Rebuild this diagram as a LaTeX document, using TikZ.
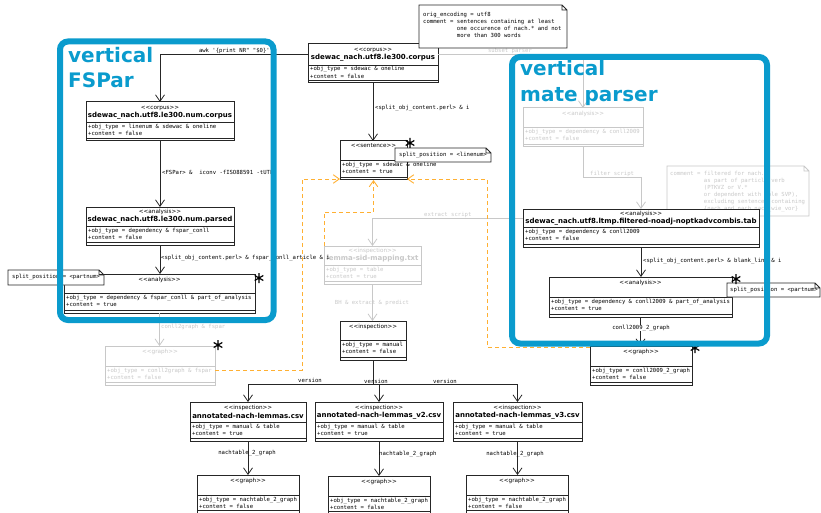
\documentclass[tikz,border=0pt]{standalone}
\usetikzlibrary{arrows.meta,calc}
% raw XeTeX fonts: no TeX ligature mapping, so << >> ' " stay as typed
\font\fmono="DejaVu Sans Mono" at 5.6pt
\font\fster="DejaVu Sans" at 5.7pt
\font\ftitle="DejaVu Sans/B" at 7pt
\font\fbig="DejaVu Sans/B" at 20pt
\definecolor{frameblue}{RGB}{10,155,205}
\definecolor{dashorange}{RGB}{255,176,50}
\definecolor{faintgray}{RGB}{200,200,200}
\tikzset{
  ink/.style={draw=black!85},
  faint/.style={draw=faintgray},
  inktext/.style={text=black},
  fainttext/.style={text=faintgray},
  umlframe/.style={draw,fill=white,line width=1pt,inner sep=0pt,outer sep=0pt},
  umlrule/.style={line width=0.7pt},
  stereo/.style={font=\fster,inner sep=0pt},
  ttl/.style={font=\ftitle,inner sep=0pt},
  attr/.style={font=\fmono,inner sep=0pt,anchor=west},
  lbl/.style={font=\fmono,inner sep=0pt},
  conn/.style={draw=black!85,line width=0.8pt,-{Straight Barb[length=6.5pt,width=9pt]}},
  flow/.style={draw=dashorange,line width=0.9pt,dash pattern=on 4pt off 3pt,-{Straight Barb[length=6pt,width=8.5pt]}},
  notebox/.style={draw,fill=white,line width=0.8pt},
  notetext/.style={font={\fmono\baselineskip=7pt},inner sep=0pt,align=left,anchor=north west},
  area/.style={draw=frameblue,line width=6pt,rounded corners=8pt},
  areatitle/.style={font=\fbig,text=frameblue,inner sep=0pt,anchor=base west},
  asterisk/.pic={\draw[line width=1.2pt,black] (0,-5)--(0,5) (-4.3,-2.5)--(4.3,2.5) (-4.3,2.5)--(4.3,-2.5);}
}
% class box: name, x1, y1, x2, y2, separator y, line style
\newcommand\umlbox[7]{%
  \node[umlframe,#7,minimum width={(#4)-(#2)},minimum height={(#5)-(#3)},anchor=north west] (#1) at (#2,#3) {};
  \draw[umlrule,#7] (#2,#6) -- (#4,#6) (#2,#5-3) -- (#4,#5-3);
}
% class text: box, text style, stereotype y, stereotype, title y, title, attribute y, attr 1, attr 2
\newcommand\umltext[9]{%
  \node[stereo,#2] (#1-st) at (#1.north |- 0,#3) {#4};
  \if\relax\detokenize{#6}\relax\else
    \node[ttl,#2] (#1-ti) at (#1.north |- 0,#5) {#6};
  \fi
  \node[attr,#2] (#1-a1) at ($(#1.west |- 0,#7)+(2,0)$) {#8};
  \node[attr,#2] (#1-a2) at ($(#1.west |- 0,#7+6.5)+(2,0)$) {#9};
}
% note with folded corner: name, x1, y1, x2, y2, line style
\newcommand\notebox[6]{%
  \draw[notebox,#6] (#2,#3) -- (#4-5,#3) -- (#4,#3+5) -- (#4,#5) -- (#2,#5) -- cycle
     (#4-5,#3) -- (#4-5,#3+5) -- (#4,#3+5);
  \coordinate (#1) at (#2,#3);
}
\begin{document}
\begin{tikzpicture}[x=1pt,y=-1pt]
\useasboundingbox (0,0) rectangle (821,513);
\clip (0,0) rectangle (821,513);

% ---------- faded (unused) branch ----------
\notebox{mnote}{667}{166}{809}{216}{faint}
\node[notetext,fainttext] (mnote-tx) at (670,171.2)
  {comment = filtered for nach.\\
   \phantom{comment = }as part of particle verb\\
   \phantom{comment = }(PTKVZ or V.*\\
   \phantom{comment = }or dependent with role SVP),\\
   \phantom{comment = }excluding sentences containing\\
   \phantom{comment = }\{nach\_and\_nach,nach\_wie\_vor\}};

\umlbox{anaM0}{523}{108}{643}{147}{127}{faint}
\umltext{anaM0}{fainttext}{114}{<<analysis>>}{}{}{132}{+obj\_type = dependency \& conll2009}{+content = false}
\umlbox{lemma}{324}{246}{421}{284}{265}{faint}
\umltext{lemma}{fainttext}{251}{<<inspection>>}{259}{lemma-sid-mapping.txt}{270}{+obj\_type = table}{+content = true}
\umlbox{graphF}{105}{346}{215}{385}{366}{faint}
\umltext{graphF}{fainttext}{352}{<<graph>>}{}{}{371}{+obj\_type = conll2graph \& fspar}{+content = false}

% ---------- black classes ----------
\umlbox{corpus0}{308}{44}{438}{83}{65}{ink}
\umltext{corpus0}{inktext}{50}{<<corpus>>}{58}{sdewac\_nach.utf8.le300.corpus}{69.5}{+obj\_type = sdewac \& oneline}{+content = false}
\umlbox{corpusnum}{86}{102}{234}{141}{122}{ink}
\umltext{corpusnum}{inktext}{108}{<<corpus>>}{116}{sdewac\_nach.utf8.le300.num.corpus}{127}{+obj\_type = linenum \& sdewac \& oneline}{+content = false}
\umlbox{parsed}{86}{207}{234}{245}{226}{ink}
\umltext{parsed}{inktext}{212}{<<analysis>>}{220}{sdewac\_nach.utf8.le300.num.parsed}{231}{+obj\_type = dependency \& fspar\_conll}{+content = false}
\umlbox{anaF}{64}{274}{255}{313}{293}{ink}
\umltext{anaF}{inktext}{280}{<<analysis>>}{}{}{298}{+obj\_type = dependency \& fspar\_conll \& part\_of\_analysis}{+content = true}
\umlbox{sentence}{340}{141}{407}{180}{160}{ink}
\umltext{sentence}{inktext}{146}{<<sentence>>}{}{}{165}{+obj\_type = sdewac \& oneline}{+content = true}
\umlbox{insp}{340}{321}{406}{360}{340}{ink}
\umltext{insp}{inktext}{327}{<<inspection>>}{}{}{345}{+obj\_type = manual}{+content = false}
\umlbox{tab}{523}{209}{759}{247}{227}{ink}
\umltext{tab}{inktext}{214}{<<analysis>>}{222}{sdewac\_nach.utf8.ltmp.filtered-noadj-noptkadvcombis.tab}{232}{+obj\_type = dependency \& conll2009}{+content = false}
\umlbox{anaM}{549}{277}{732}{317}{297}{ink}
\umltext{anaM}{inktext}{283}{<<analysis>>}{}{}{302}{+obj\_type = dependency \& conll2009 \& part\_of\_analysis}{+content = true}
\umlbox{graphM}{590}{346}{692}{385}{366}{ink}
\umltext{graphM}{inktext}{352}{<<graph>>}{}{}{371}{+obj\_type = conll2009\_2\_graph}{+content = false}
\umlbox{V1}{190}{402}{306}{441}{422}{ink}
\umltext{V1}{inktext}{408}{<<inspection>>}{416}{annotated-nach-lemmas.csv}{427}{+obj\_type = manual \& table}{+content = true}
\umlbox{V2}{315}{402}{443}{441}{422}{ink}
\umltext{V2}{inktext}{408}{<<inspection>>}{416}{annotated-nach-lemmas\_v2.csv}{427}{+obj\_type = manual \& table}{+content = true}
\umlbox{V3}{453}{402}{582}{441}{422}{ink}
\umltext{V3}{inktext}{408}{<<inspection>>}{416}{annotated-nach-lemmas\_v3.csv}{427}{+obj\_type = manual \& table}{+content = true}
\umlbox{G1}{197}{475}{299}{513}{495}{ink}
\umltext{G1}{inktext}{481}{<<graph>>}{}{}{500}{+obj\_type = nachtable\_2\_graph}{+content = false}
\umlbox{G2}{328}{476}{430}{514}{496}{ink}
\umltext{G2}{inktext}{482}{<<graph>>}{}{}{501}{+obj\_type = nachtable\_2\_graph}{+content = false}
\umlbox{G3}{466}{475}{568}{513}{495}{ink}
\umltext{G3}{inktext}{481}{<<graph>>}{}{}{500}{+obj\_type = nachtable\_2\_graph}{+content = false}

% ---------- faded connectors ----------
\draw[conn,faint] (anaF.south) -- (anaF.south |- graphF.north);
\node[lbl,fainttext,anchor=west] (l-c2g) at (161,327) {conll2graph \& fspar};
\draw[conn,faint] ($(corpus0.north east)+(0,10)$) -| (anaM0.north);
\node[lbl,fainttext] (l-subset) at (510,51) {subset parser};
\draw[conn,faint] (anaM0.south) -- ++(0,30) -| (tab.north);
\node[lbl,fainttext,anchor=west] (l-filter) at (590,174) {filter script};
\draw[conn,faint] ($(tab.north west)+(0,9)$) -| (lemma.north);
\node[lbl,fainttext,anchor=west] (l-extract) at (424,215) {extract script};
\draw[conn,faint] (lemma.south) -- (lemma.south |- insp.north);
\node[lbl,fainttext] (l-bh) at (372,303) {BH \& extract \& predict};

% ---------- dashed back references ----------
\draw[flow] ([yshift=-4.5pt]graphF.east) -- ++(87,0) |- ([yshift=1pt]sentence.south west);
\draw[flow] (lemma.north west) -- ++(0,-34) -| (sentence.south);
\draw[flow] ([yshift=-1pt]graphM.north west) -- ++(-103,0) |- ([yshift=1pt]sentence.south east);

% ---------- processing steps ----------
\draw[conn] ($(corpus0.north west)+(0,10)$) -| (corpusnum.north);
\node[lbl,anchor=east] (l-awk) at (270,50.5) {awk '\{print NR" "\$0\}'};
\draw[conn] (corpus0.south) -- (corpus0.south |- sentence.north);
\node[lbl,anchor=west] (l-split0) at (375,108) {<split\_obj\_content.perl> \& i};
\draw[conn] (corpusnum.south) -- (parsed.north);
\node[lbl,anchor=west] (l-fspar) at (162,172) {<FSPar> \&~ iconv -fISO88591 -tUTF};
\draw[conn] (parsed.south) -- (parsed.south |- anaF.north);
\node[lbl,anchor=west] (l-splitF) at (161,258) {<split\_obj\_content.perl> \& fspar\_conll\_article \& i};
\draw[conn] (tab.south) -- (tab.south |- anaM.north);
\node[lbl,anchor=west] (l-splitM) at (643,261) {<split\_obj\_content.perl> \& blank\_line \& i};
\draw[conn] (anaM.south) -- (anaM.south |- graphM.north);
\node[lbl,fill=white,inner sep=0.3pt] (l-c2009) at (641,328) {conll2009\_2\_graph};
\draw[conn] (insp.south) -- ++(0,24) -| (V1.north);
\draw[conn] (insp.south) -- ++(0,24) -| (V2.north);
\draw[conn] (insp.south) -- ++(0,24) -| (V3.north);
\node[lbl] (l-v1) at (310,380.5) {version};
\node[lbl] (l-v2) at (376,381.5) {version};
\node[lbl] (l-v3) at (445,381) {version};
\draw[conn] (V1.south) -- (V1.south |- G1.north);
\draw[conn] (V2.south) -- (V2.south |- G2.north);
\draw[conn] (V3.south) -- (V3.south |- G3.north);
\node[lbl] (l-g1) at (247,453) {nachtable\_2\_graph};
\node[lbl,anchor=west] (l-g2) at (379,454) {nachtable\_2\_graph};
\node[lbl] (l-g3) at (515,454) {nachtable\_2\_graph};

% ---------- notes ----------
\notebox{tnote}{419}{5}{567}{48}{ink}
\node[notetext] (tnote-tx) at (423,12.2)
  {orig\_encoding = utf8\\
   comment = sentences containing at least\\
   \phantom{comment = }one occurence of nach.* and not\\
   \phantom{comment = }more than 300 words};
\notebox{snote}{395}{148}{491}{162}{ink}
\node[lbl,anchor=west] (snote-tx) at (399,155) {split\_position = <linenum>};
\notebox{fnote}{8}{270}{104}{285}{ink}
\node[lbl,anchor=west] (fnote-tx) at (12,277.5) {split\_position = <partnum>};
\notebox{mpnote}{727}{283}{820}{297}{ink}
\node[lbl,anchor=west] (mpnote-tx) at (730,290) {split\_position = <partnum>};

% ---------- multiplicity marks ----------
\pic at (410,143) {asterisk};
\pic at (259,278) {asterisk};
\pic at (218,345) {asterisk};
\pic at (736,279) {asterisk};
\pic at (695,348) {asterisk};

% ---------- parser areas ----------
\draw[area] (60,41.5) rectangle (273.5,320);
\node[areatitle] (fspar-a) at (68,62.5) {vertical};
\node[areatitle] (fspar-b) at (68,88) {FSPar};
\draw[area] (512,57) rectangle (767,343.5);
\node[areatitle] (mate-a) at (520,76) {vertical};
\node[areatitle] (mate-b) at (520,101.5) {mate parser};
\end{tikzpicture}
\end{document}
